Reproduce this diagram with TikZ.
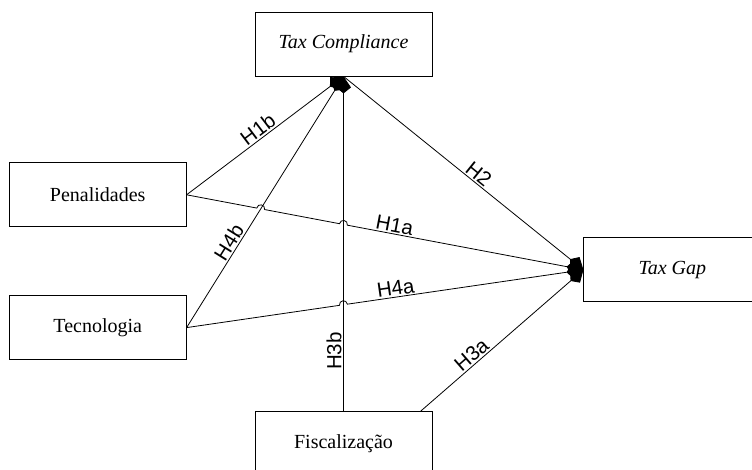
\documentclass[tikz,border=0pt]{standalone}
\usepackage{fontspec}
\setmainfont{Liberation Serif}
\setsansfont{Liberation Sans}
\usetikzlibrary{arrows.meta,calc,positioning}
\tikzset{
varstyle/.style={
  rectangle,
  line width=0.8pt,
  minimum width=177pt,
  minimum height=64pt,
  inner sep=0pt,
  draw=black,
  font=\fontsize{20}{24}\selectfont,
  }
}
\tikzset{
hypline/.style={
  line width=0.8pt,
  -{Kite[length=17pt,width=15pt,inset=6pt]}
  }
}
\tikzset{
hyplabel/.style={
  sloped,
  above,
  inner sep=1.5pt,
  font=\sffamily\fontsize{20.5}{24}\selectfont,
  }
}
\tikzset{
hop/.style={
  bend left=90,
  looseness=1.7
  }
}

\begin{document}
\begin{tikzpicture}[x=1pt,y=1pt]
    \useasboundingbox (0,0) rectangle (752,-470);
    \clip (0,0) rectangle (752,-470);
    \node[varstyle] (tc) at (343.5,-44) {\itshape Tax Compliance};
    \node[varstyle, below left=86pt and 68pt of tc] (pen) {Penalidades};
    \node[varstyle, below=68pt of pen] (tec) {Tecnologia};
    \node[varstyle, below right=161pt and 151pt of tc] (gap) {\itshape Tax Gap};
    \node[varstyle, below=335pt of tc] (fisc) {Fiscalização};

    % crossing points
    \coordinate (hpa) at ($(pen.east)!0.1867!(gap.west)$);
    \coordinate (hpb) at ($(pen.east)!0.3952!(gap.west)$);
    \coordinate (hta) at ($(tec.east)!0.3952!(gap.west)$);
    \coordinate (f3a) at ($(fisc.north east)+(-12,0)$);

    \draw[hypline] (pen.east) -- (tc.south) node[hyplabel, pos=0.49] {H1b};
    \draw[hypline] (tec.east) -- (tc.south) node[hyplabel, pos=0.32] {H4b};
    \draw[hypline] (fisc.north) -- (tc.south) node[hyplabel, pos=0.18] {H3b};
    \draw[hypline] (tc.south) -- (gap.west) node[hyplabel, pos=0.54] {H2};
    \draw[hypline] (f3a) -- (gap.west) node[hyplabel, pos=0.35] {H3a};

    \draw[hypline] (pen.east) -- ($(hpa)!4pt!(pen.east)$) to[hop] ($(hpa)!4pt!(gap.west)$)
        -- ($(hpb)!4pt!(pen.east)$) to[hop] ($(hpb)!4pt!(gap.west)$) -- (gap.west);
    \path (pen.east) -- (gap.west) node[hyplabel, pos=0.52] {H1a};

    \draw[hypline] (tec.east) -- ($(hta)!4pt!(tec.east)$) to[hop] ($(hta)!4pt!(gap.west)$) -- (gap.west);
    \path (tec.east) -- (gap.west) node[hyplabel, pos=0.53] {H4a};
\end{tikzpicture}
\end{document}
